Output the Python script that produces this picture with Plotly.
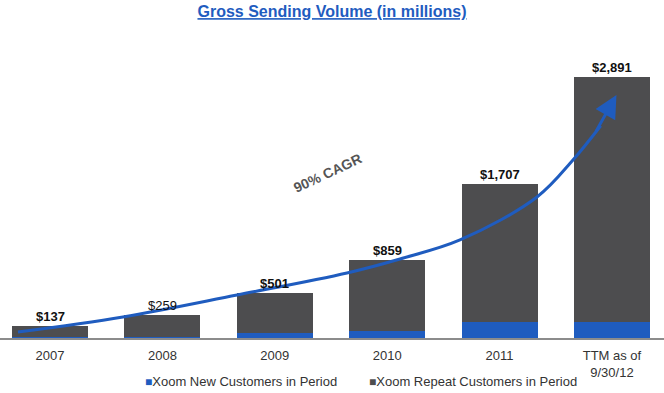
import plotly.graph_objects as go

categories = ["2007", "2008", "2009", "2010", "2011", "TTM as of<br>9/30/12"]
totals = [137, 259, 501, 859, 1707, 2891]
new_customers = [8, 15, 55, 80, 177, 177]
repeat_customers = [t - n for t, n in zip(totals, new_customers)]
total_labels = ["$137", "$259", "$501", "$859", "$1,707", "$2,891"]
series_names = ["Xoom New Customers in Period", "Xoom Repeat Customers in Period"]

# illustrative growth arrow (x in category index units, y in $ millions)
curve_x = [-0.285, 0.649, 1.664, 2.642, 3.114, 3.648, 4.333, 4.653, 4.90]
curve_y = [66, 233, 476, 720, 875, 1085, 1561, 1971, 2350]
arrow_tip = (5.04, 2690)

xpos = list(range(len(categories)))
BLUE = "#1f5cbf"
GREY = "#4d4d4f"
FONT = "Liberation Sans, Arial, sans-serif"

fig = go.Figure()
fig.add_trace(go.Bar(x=xpos, y=new_customers, name=series_names[0],
                     marker=dict(color=BLUE, line=dict(width=0)), width=0.676))
fig.add_trace(go.Bar(x=xpos, y=repeat_customers, name=series_names[1],
                     marker=dict(color=GREY, line=dict(width=0)), width=0.676))
fig.add_trace(go.Scatter(x=curve_x, y=curve_y, mode="lines", line=dict(color=BLUE, width=3, shape="spline"),
                         showlegend=False, hoverinfo="skip"))

fig.add_annotation(x=arrow_tip[0], y=arrow_tip[1], ax=curve_x[-1] - 0.05, ay=curve_y[-1] - 80,
                   xref="x", yref="y", axref="x", ayref="y", text="", showarrow=True,
                   arrowhead=2, arrowsize=1.5, arrowwidth=3, arrowcolor=BLUE)

for i, (t, lab) in enumerate(zip(totals, total_labels)):
    fig.add_annotation(x=i, y=t, text=lab if i == 1 else f"<b>{lab}</b>", showarrow=False,
                       yanchor="bottom", yshift=0,
                       font=dict(family=FONT, size=13, color="#111111"))

fig.add_annotation(x=2.47, y=1827, text="<b>90% CAGR</b>", showarrow=False, textangle=-25,
                   font=dict(family=FONT, size=14, color="#555555"))

# legend drawn as text items
legend_colors = [BLUE, GREY]
legend_x = [0.215, 0.552]
for name, col, lx in zip(series_names, legend_colors, legend_x):
    fig.add_annotation(xref="paper", yref="paper", x=lx, y=-0.159, xanchor="left", yanchor="middle",
                       showarrow=False,
                       text=f"<span style='color:{col};font-size:12px'>■</span>{name}",
                       font=dict(family=FONT, size=13, color="#333333"))

fig.update_layout(
    width=664, height=393,
    margin=dict(l=0, r=0, t=67, b=55),
    paper_bgcolor="white", plot_bgcolor="white",
    barmode="stack", bargap=0.32,
    title=dict(text="<b><u>Gross Sending Volume (in millions)</u></b>", x=0.5, xanchor="center",
               y=0.985, yanchor="top", font=dict(family=FONT, size=16, color=BLUE)),
    xaxis=dict(range=[-0.445, 5.463], tickmode="array", tickvals=xpos, ticktext=categories,
               showgrid=False, zeroline=False, showline=True, linecolor="#8c8c8c", linewidth=2,
               ticks="", ticklabelstandoff=4, tickfont=dict(family=FONT, size=13, color="#333333")),
    yaxis=dict(range=[0, 3000], visible=False, showgrid=False, zeroline=False),
    showlegend=False,
)

fig.write_html("out.html", config={"displayModeBar": False},
               post_script="document.body.style.margin='0';")
